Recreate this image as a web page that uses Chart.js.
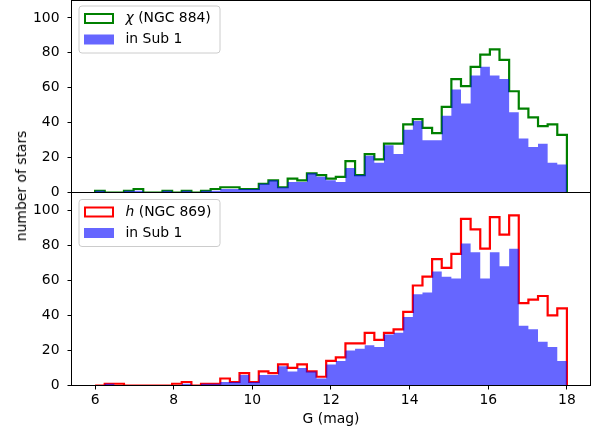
<!DOCTYPE html>
<html>
<head>
<meta charset="utf-8">
<script src="https://cdn.jsdelivr.net/npm/chart.js@4"></script>
<style>
  html, body { margin: 0; padding: 0; background: #fff; }
  #wrap { position: relative; width: 606px; height: 435px; }
  #wrap canvas { position: absolute; left: 0; top: 0; }
  #ylab {
    position: absolute; left: 20.5px; top: 186px;
    transform: translate(-50%, -50%) rotate(-90deg);
    font: 13.9px 'DejaVu Sans'; white-space: nowrap; color: #000;
  }
</style>
</head>
<body>
<div id="wrap">
  <canvas id="chartchi" width="606" height="435"></canvas>
  <canvas id="charth" width="606" height="435"></canvas>
  <div id="ylab">number of stars</div>
</div>
<script>
// histogram bins: 49 equal bins from G = 6 to G = 18
const binStart = 6;
const binEnd = 18;

// chi Persei (NGC 884), all members and those in Sub 1
const chiAll = [1, 0, 0, 1, 2, 0, 0, 1, 0, 1, 0, 1, 2, 3, 3, 2, 2, 5, 7, 3,
                8, 7, 11, 10, 8, 9, 18, 10, 22, 19, 28, 28, 39, 42, 37, 34, 49, 65, 61, 72,
                79, 82, 76, 58, 48, 43, 38, 39, 33];
const chiSub = [1, 0, 0, 1, 1, 0, 0, 1, 0, 1, 0, 1, 1, 2, 2, 2, 2, 5, 7, 3,
                6, 6, 11, 9, 7, 6, 14, 10, 21, 17, 27, 22, 36, 41, 30, 30, 44, 59, 51, 67,
                72, 67, 65, 46, 31, 26, 28, 17, 16];

// h Persei (NGC 869), all members and those in Sub 1
const hAll = [0, 1, 1, 0, 0, 0, 0, 0, 1, 2, 0, 1, 1, 4, 2, 7, 2, 8, 7, 12,
              10, 12, 8, 5, 14, 16, 24, 24, 30, 26, 30, 32, 42, 57, 62, 72, 67, 75, 95, 89,
              78, 96, 86, 97, 47, 49, 51, 40, 44];
const hSub = [0, 1, 0, 0, 0, 0, 0, 0, 0, 1, 0, 1, 1, 2, 2, 6, 2, 6, 6, 11,
              8, 10, 8, 4, 12, 14, 20, 21, 23, 22, 29, 30, 39, 52, 53, 65, 62, 61, 81, 76,
              61, 76, 68, 78, 34, 32, 25, 22, 14];

const xTicks = [6, 8, 10, 12, 14, 16, 18];
const yTicks = [0, 20, 40, 60, 80, 100];

Chart.defaults.font.family = "'DejaVu Sans'";
Chart.defaults.font.size = 13.9;
Chart.defaults.color = '#000';

// points for a stepped outline: up at the first edge, down at the last
function stepPoints(counts) {
    const w = (binEnd - binStart) / counts.length;
    const pts = [{x: binStart, y: 0}];
    counts.forEach((c, i) => pts.push({x: binStart + i * w, y: c}));
    pts.push({x: binEnd, y: 0});
    return pts;
}

const frame = {
    id: 'frame',
    afterDatasetsDraw(chart) {
        const {ctx, chartArea: a} = chart;
        ctx.save();
        ctx.strokeStyle = '#000';
        ctx.lineWidth = 1;
        ctx.strokeRect(a.left, a.top, a.right - a.left, a.bottom - a.top);
        ctx.restore();
    }
};

const panelLegend = {
    id: 'panelLegend',
    afterDraw(chart, args, opts) {
        const {ctx, chartArea: a} = chart;
        const x0 = a.left + 7.5, y0 = a.top + opts.top;
        const w = 141, h = 47, r = 3;
        ctx.save();
        ctx.beginPath();
        ctx.moveTo(x0 + r, y0);
        ctx.arcTo(x0 + w, y0, x0 + w, y0 + h, r);
        ctx.arcTo(x0 + w, y0 + h, x0, y0 + h, r);
        ctx.arcTo(x0, y0 + h, x0, y0, r);
        ctx.arcTo(x0, y0, x0 + w, y0, r);
        ctx.closePath();
        ctx.fillStyle = 'rgba(255,255,255,0.8)';
        ctx.fill();
        ctx.strokeStyle = '#cccccc';
        ctx.lineWidth = 1;
        ctx.stroke();

        opts.entries.forEach((e, i) => {
            const cy = y0 + 12.5 + i * 21;
            if (e.kind === 'line') {
                ctx.strokeStyle = e.color;
                ctx.lineWidth = 2;
                ctx.strokeRect(x0 + 6, cy - 4.5, 28, 9);
            } else {
                ctx.fillStyle = e.color;
                ctx.fillRect(x0 + 5, cy - 5, 30, 10);
            }
            let tx = x0 + 46.5;
            ctx.fillStyle = '#000';
            ctx.textBaseline = 'middle';
            ctx.textAlign = 'left';
            if (e.sym) {
                ctx.font = "italic 13.9px 'DejaVu Sans'";
                ctx.fillText(e.sym, tx, cy);
                tx += ctx.measureText(e.sym).width;
            }
            ctx.font = "13.9px 'DejaVu Sans'";
            ctx.fillText(e.text, tx, cy);
        });
        ctx.restore();
    }
};

function makePanel(id, all, sub, color, sym, name, isBottom) {
    const tickGrid = {
        drawOnChartArea: false,
        drawTicks: true,
        tickLength: 4,
        color: '#000',
        lineWidth: 1
    };
    return new Chart(document.getElementById(id), {
        type: 'line',
        data: {
            datasets: [
                {
                    label: name,
                    data: stepPoints(all),
                    borderColor: color,
                    borderWidth: 2.2,
                    stepped: true,
                    pointRadius: 0,
                    fill: false,
                    order: 1
                },
                {
                    label: 'in Sub 1',
                    data: stepPoints(sub),
                    borderColor: 'rgba(0,0,0,0)',
                    borderWidth: 0,
                    backgroundColor: 'rgba(0,0,255,0.6)',
                    stepped: true,
                    pointRadius: 0,
                    fill: 'origin',
                    order: 0
                }
            ]
        },
        options: {
            responsive: false,
            animation: false,
            events: [],
            layout: {
                padding: isBottom
                    ? {left: 0, top: 192.5, right: 15.5, bottom: 0}
                    : {left: 0, top: 0.5, right: 15.5, bottom: 242.5}
            },
            plugins: {
                legend: {display: false},
                tooltip: {enabled: false},
                panelLegend: {
                    top: isBottom ? 7 : 5.5,
                    entries: [
                        {kind: 'line', color: color, sym: sym, text: name},
                        {kind: 'fill', color: 'rgba(0,0,255,0.6)', text: 'in Sub 1'}
                    ]
                }
            },
            scales: {
                x: {
                    type: 'linear',
                    min: 5.4,
                    max: 18.6,
                    display: isBottom,
                    afterBuildTicks: s => { s.ticks = xTicks.map(v => ({value: v})); },
                    grid: tickGrid,
                    border: {display: false},
                    ticks: {padding: 3, color: '#000'},
                    title: {
                        display: true,
                        text: 'G (mag)',
                        color: '#000',
                        padding: {top: 0, bottom: 7}
                    },
                    afterFit: s => {
                        s.height = isBottom ? 49.5 : 0;
                        s.paddingLeft = 0;
                        s.paddingRight = 0;
                    }
                },
                y: {
                    type: 'linear',
                    min: 0,
                    max: 110,
                    afterBuildTicks: s => { s.ticks = yTicks.map(v => ({value: v})); },
                    grid: tickGrid,
                    border: {display: false},
                    ticks: {padding: 8, color: '#000'},
                    afterFit: s => {
                        s.width = 71.5;
                        s.paddingTop = 0;
                        s.paddingBottom = 0;
                    }
                }
            }
        },
        plugins: [frame, panelLegend]
    });
}

makePanel('chartchi', chiAll, chiSub, '#008000', 'χ', ' (NGC 884)', false);
makePanel('charth', hAll, hSub, '#ff0000', 'h', ' (NGC 869)', true);
</script>
</body>
</html>
